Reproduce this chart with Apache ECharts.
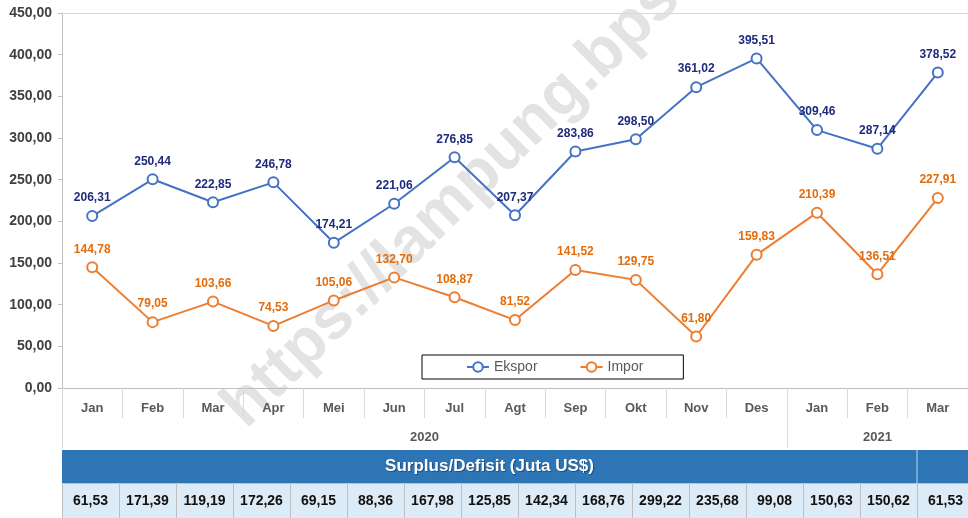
<!DOCTYPE html>
<html lang="id">
  <head>
    <meta charset="UTF-8" />
    <title>Ekspor Impor Lampung</title>
    <script src="https://cdn.jsdelivr.net/npm/echarts@6/dist/echarts.min.js"></script>
    <style>
      html, body { margin: 0; padding: 0; background: #fff; }
      #chart { width: 968px; height: 518px; }
    </style>
  </head>
  <body>
    <div id="chart"></div>
    <script>
      const months = ['Jan', 'Feb', 'Mar', 'Apr', 'Mei', 'Jun', 'Jul', 'Agt', 'Sep', 'Okt', 'Nov', 'Des', 'Jan', 'Feb', 'Mar'];
      const ekspor = [206.31, 250.44, 222.85, 246.78, 174.21, 221.06, 276.85, 207.37, 283.86, 298.50, 361.02, 395.51, 309.46, 287.14, 378.52];
      const impor = [144.78, 79.05, 103.66, 74.53, 105.06, 132.70, 108.87, 81.52, 141.52, 129.75, 61.80, 159.83, 210.39, 136.51, 227.91];
      const years = ['2020', '2021'];
      const yearStart = [0, 12]; // index of first month in each year
      const surplus = [61.53, 171.39, 119.19, 172.26, 69.15, 88.36, 167.98, 125.85, 142.34, 168.76, 299.22, 235.68, 99.08, 150.63, 150.62, 61.53];
      const tableTitle = 'Surplus/Defisit (Juta US$)';
      const watermark = 'https://lampung.bps.go.id';

      const fmt = (v) => v.toFixed(2).replace('.', ',');
      const narrow = '"Liberation Sans Narrow", "Arial Narrow", "Liberation Sans", sans-serif';

      // year centres on a 0..15 scale laid over the month axis
      const yearMid = yearStart.map((s, i) => (s + (yearStart[i + 1] ?? months.length)) / 2);

      const chart = echarts.init(document.getElementById('chart'));

      // table under the chart
      const cellW = 57, tx = 62, bandTop = 450, bandH = 33, rowH = 35;
      const table = [
        {
          type: 'rect',
          shape: { x: tx, y: bandTop, width: 968 - tx, height: bandH },
          style: { fill: '#2E75B6' }
        },
        {
          type: 'line',
          shape: { x1: tx + cellW * 15, y1: bandTop, x2: tx + cellW * 15, y2: bandTop + bandH },
          style: { stroke: '#bdd7ee', lineWidth: 1 }
        },
        {
          type: 'text',
          x: tx + (cellW * 15) / 2,
          y: bandTop + bandH / 2,
          style: {
            text: tableTitle, fill: '#fff', align: 'center', verticalAlign: 'middle',
            font: 'bold 17px ' + narrow,
            textShadowColor: 'rgba(0,0,0,0.35)', textShadowOffsetX: 1, textShadowOffsetY: 1, textShadowBlur: 1
          }
        }
      ];
      surplus.forEach((v, i) => {
        table.push({
          type: 'rect',
          shape: { x: tx + i * cellW + 0.5, y: bandTop + bandH + 0.5, width: cellW, height: rowH },
          style: { fill: '#DDEBF7', stroke: '#bfbfbf', lineWidth: 1 }
        });
        table.push({
          type: 'text',
          x: tx + i * cellW + cellW / 2,
          y: bandTop + bandH + rowH / 2 + 1,
          style: {
            text: fmt(v), fill: '#111', align: 'center', verticalAlign: 'middle',
            font: 'bold 14px "Liberation Sans", Arial, sans-serif'
          }
        });
      });

      const labelStyle = (color) => ({
        show: true,
        position: 'top',
        distance: 6,
        color: color,
        fontFamily: narrow,
        fontWeight: 'bold',
        fontSize: 12,
        formatter: (p) => fmt(p.value)
      });

      chart.setOption({
        animation: false,
        textStyle: { fontFamily: narrow },
        grid: { left: 62, right: 0, top: 13, bottom: 130 },
        legend: {
          left: 422,
          top: 355,
          width: 245,
          padding: [5, 40, 5, 44],
          itemGap: 42,
          itemWidth: 22,
          itemHeight: 12,
          borderColor: '#000',
          borderWidth: 1,
          textStyle: { color: '#595959', fontSize: 14, fontFamily: narrow },
          data: ['Ekspor', 'Impor']
        },
        xAxis: [
          {
            type: 'category',
            data: months,
            boundaryGap: true,
            axisLine: { lineStyle: { color: '#bfbfbf' } },
            axisTick: { show: true, interval: 0, length: 30, lineStyle: { color: '#d9d9d9' } },
            axisLabel: {
              interval: 0, margin: 14, color: '#595959',
              fontWeight: 'bold', fontSize: 13, fontFamily: narrow
            }
          },
          {
            type: 'value',
            min: 0,
            max: months.length,
            position: 'bottom',
            offset: 30,
            axisLine: { show: false },
            splitLine: { show: false },
            axisTick: { show: true, customValues: yearStart, length: 30, lineStyle: { color: '#d9d9d9' } },
            axisLabel: {
              customValues: yearMid,
              margin: 13,
              color: '#595959',
              fontWeight: 'bold',
              fontSize: 13,
              fontFamily: narrow,
              formatter: (v) => years[yearMid.indexOf(v)]
            }
          },
          {
            type: 'category',
            data: months,
            position: 'top',
            axisLine: { lineStyle: { color: '#d9d9d9' } },
            axisTick: { show: false },
            axisLabel: { show: false }
          }
        ],
        yAxis: {
          type: 'value',
          min: 0,
          max: 450,
          interval: 50,
          splitLine: { show: false },
          axisLine: { show: true, lineStyle: { color: '#bfbfbf' } },
          axisTick: { show: true, length: 4, lineStyle: { color: '#bfbfbf' } },
          axisLabel: {
            margin: 10, color: '#404040', fontWeight: 'bold', fontSize: 14, fontFamily: narrow,
            formatter: (v) => fmt(v)
          }
        },
        series: [
          {
            name: 'Ekspor',
            type: 'line',
            data: ekspor,
            symbol: 'circle',
            symbolSize: 10,
            itemStyle: { color: '#fff', borderColor: '#4472C4', borderWidth: 2 },
            lineStyle: { color: '#4472C4', width: 2 },
            label: labelStyle('#1F2A7C'),
            z: 3
          },
          {
            name: 'Impor',
            type: 'line',
            data: impor,
            symbol: 'circle',
            symbolSize: 10,
            itemStyle: { color: '#fff', borderColor: '#ED7D31', borderWidth: 2 },
            lineStyle: { color: '#ED7D31', width: 2 },
            label: labelStyle('#E46C0A'),
            z: 3
          }
        ],
        graphic: [
          {
            type: 'text',
            x: 256,
            y: 440,
            rotation: Math.PI / 4.05,
            z: -10,
            style: {
              text: watermark,
              fill: 'rgba(200,200,200,0.5)',
              font: 'bold 64px "Liberation Sans", Arial, sans-serif',
              verticalAlign: 'bottom'
            }
          }
        ].concat(table)
      });
    </script>
  </body>
</html>
